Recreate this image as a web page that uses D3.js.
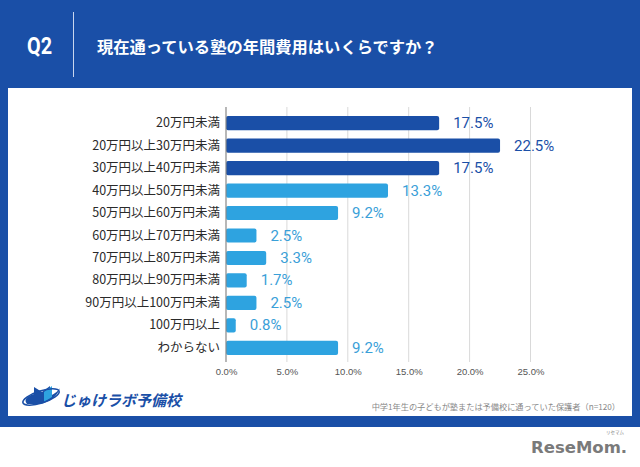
<!DOCTYPE html>
<html><head><meta charset="utf-8">
<script src="https://cdn.jsdelivr.net/npm/d3@7"></script>
<style>
html,body{margin:0;padding:0;background:#fff;}
svg{display:block;font-family:"Noto Sans CJK JP","Noto Sans",sans-serif;}
</style></head>
<body>
<script>
const categories = ["20万円未満","20万円以上30万円未満","30万円以上40万円未満","40万円以上50万円未満","50万円以上60万円未満","60万円以上70万円未満","70万円以上80万円未満","80万円以上90万円未満","90万円以上100万円未満","100万円以上","わからない"];
const values = [17.5,22.5,17.5,13.3,9.2,2.5,3.3,1.7,2.5,0.8,9.2];
const highlight = [true,true,true,false,false,false,false,false,false,false,false];
const xTicks = [0,5,10,15,20,25];
const title = "現在通っている塾の年間費用はいくらですか？";
const qLabel = "Q2";
const note = "中学1年生の子どもが塾または予備校に通っていた保護者（n=120）";

const W=640,H=467;
const dark="#1a4fa7", light="#2ea3e0";
const svg=d3.select("body").append("svg").attr("width",W).attr("height",H);

// backgrounds
svg.append("rect").attr("x",0).attr("y",0).attr("width",W).attr("height",427).attr("fill",dark);
svg.append("rect").attr("x",8).attr("y",88).attr("width",624).attr("height",328).attr("fill","#fff");

// header
svg.append("text").attr("x",27).attr("y",46).attr("dominant-baseline","central")
  .attr("fill","#fff").attr("font-size",23).attr("font-weight","bold").attr("font-family","Roboto, 'Noto Sans', sans-serif")
  .attr("textLength",25).attr("lengthAdjust","spacingAndGlyphs").text(qLabel);
svg.append("line").attr("x1",73.5).attr("x2",73.5).attr("y1",12).attr("y2",77).attr("stroke","#c9d6ee").attr("stroke-width",1);
svg.append("text").attr("x",97).attr("y",46).attr("dominant-baseline","central")
  .attr("fill","#fff").attr("font-size",16.3).attr("font-weight","bold").text(title);

// scales
const x=d3.scaleLinear().domain([0,25]).range([226,530.5]);
const y=d3.scaleBand().domain(categories).range([112,359]).paddingInner(0.37).paddingOuter(0.18);

// gridlines
svg.append("g").selectAll("line").data(xTicks.slice(1)).join("line")
  .attr("x1",d=>x(d)).attr("x2",d=>x(d)).attr("y1",107).attr("y2",362)
  .attr("stroke","#d9d9d9").attr("stroke-width",1);

// bars
const data=categories.map((c,i)=>({c,v:values[i],h:highlight[i]}));
svg.append("g").selectAll("rect").data(data).join("rect")
  .attr("x",x(0)).attr("y",d=>y(d.c)).attr("width",d=>x(d.v)-x(0)).attr("height",y.bandwidth())
  .attr("rx",2).attr("fill",d=>d.h?dark:light);

// axis line
svg.append("line").attr("x1",x(0)).attr("x2",x(0)).attr("y1",107).attr("y2",362).attr("stroke","#888").attr("stroke-width",1.2);

// x tick labels via axis
const xAxis=d3.axisBottom(x).tickValues(xTicks).tickSize(0).tickPadding(0).tickFormat(d=>d.toFixed(1)+"%");
const ax=svg.append("g").attr("transform","translate(0,368)").call(xAxis);
ax.select(".domain").remove();
ax.selectAll("text").attr("font-size",9.5).attr("fill","#555").attr("font-family","Arial, 'Liberation Sans', sans-serif").attr("dy","0.71em");

// category labels
const yAxis=d3.axisLeft(y).tickSize(0).tickPadding(6);
const ay=svg.append("g").attr("transform",`translate(${x(0)},0)`).call(yAxis);
ay.select(".domain").remove();
ay.selectAll("text").attr("font-size",12.5).attr("fill","#2a2a2a").attr("font-family","'Noto Sans CJK JP', sans-serif");

// value labels
svg.append("g").selectAll("text").data(data).join("text")
  .attr("x",d=>x(d.v)+14).attr("y",d=>y(d.c)+y.bandwidth()/2).attr("dominant-baseline","central")
  .attr("font-size",15).attr("font-family","Roboto, sans-serif")
  .attr("fill",d=>d.h?dark:"#3aa0d8").text(d=>d.v.toFixed(1)+"%");

// footnote
svg.append("text").attr("x",620).attr("y",406).attr("text-anchor","end").attr("dominant-baseline","central")
  .attr("font-size",8.2).attr("fill","#888").text(note);

// logo jukelabo
const lg=svg.append("g");
lg.append("path").attr("d","M27,404 Q22,398 34,394 L34,387 L42,392 L50,386 L50,396 Q58,392 60,388 Q56,400 40,404 Z").attr("fill",dark);
lg.append("path").attr("d","M44,392 L52,386 L52,397 L44,402 Z").attr("fill",light);
lg.append("ellipse").attr("cx",41).attr("cy",397).attr("rx",19).attr("ry",6).attr("fill","none").attr("stroke",dark).attr("stroke-width",1.6).attr("transform","rotate(-18,41,397)");
lg.append("text").attr("x",61).attr("y",399).attr("dominant-baseline","central")
  .attr("font-size",15).attr("font-weight","bold").attr("font-style","italic").attr("fill",dark).text("じゅけラボ予備校");

// ReseMom
svg.append("text").attr("x",531).attr("y",453).attr("font-size",16.5).attr("font-weight","bold")
  .attr("font-family","'DejaVu Sans', sans-serif").attr("fill","#7a7a7a").text("ReseMom.");
svg.append("text").attr("x",606).attr("y",434).attr("font-size",4.5).attr("fill","#888").text("リセマム");
</script>
</body></html>
